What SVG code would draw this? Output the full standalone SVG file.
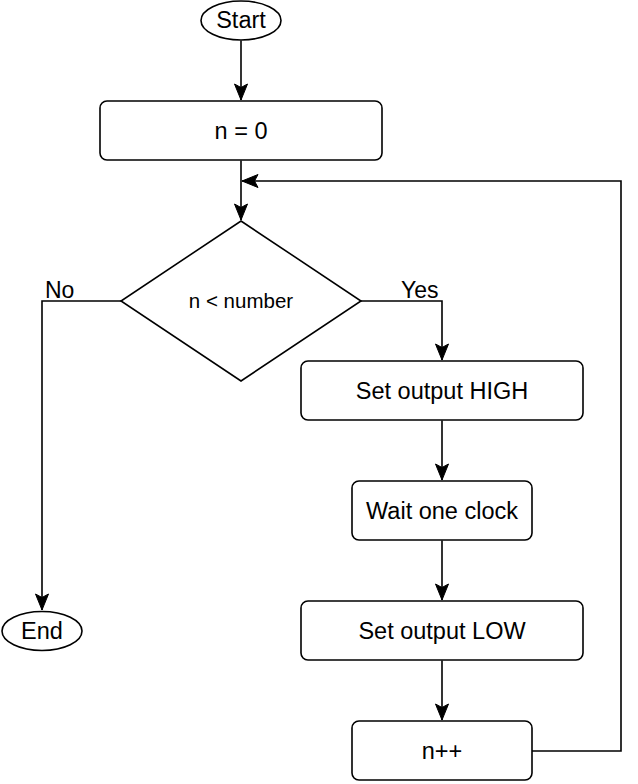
<svg xmlns="http://www.w3.org/2000/svg" width="638" height="784" viewBox="0 0 638 784">
<defs>
<style>
.s{fill:#fff;stroke:#000;stroke-width:1.6}
.c{fill:none;stroke:#000;stroke-width:1.6}
.t{font-family:"Liberation Sans",Arial,sans-serif;font-size:23.5px;fill:#000;text-anchor:middle}
.sm{font-size:20.5px}
.lb{font-family:"Liberation Sans",Arial,sans-serif;font-size:23px;fill:#000}
</style>
<marker id="ar" markerUnits="userSpaceOnUse" markerWidth="18" markerHeight="16" viewBox="0 0 18 16" refX="17" refY="8" orient="auto">
<path d="M1,1.5 L17,8 L1,14.5 L4.5,8 z" fill="#000" stroke="#000" stroke-width="1"/>
</marker>
</defs>
<rect width="638" height="784" fill="#fff"/>
<g id="connectors">
<path class="c" d="M241,40.5 V100" marker-end="url(#ar)"/>
<path class="c" d="M241,160.5 V220" marker-end="url(#ar)"/>
<path class="c" d="M361,301 H442 V360" marker-end="url(#ar)"/>
<path class="c" d="M121,301 H42 V610" marker-end="url(#ar)"/>
<path class="c" d="M442,420.5 V480" marker-end="url(#ar)"/>
<path class="c" d="M442,540.5 V600" marker-end="url(#ar)"/>
<path class="c" d="M442,660.5 V720" marker-end="url(#ar)"/>
<path class="c" d="M532,751 H621 V181 H242" marker-end="url(#ar)"/>
<text class="lb" x="45" y="298">No</text>
<text class="lb" x="401" y="298">Yes</text>
</g>
<g id="start"><ellipse class="s" cx="241" cy="20.5" rx="40" ry="19.5"/><text class="t" x="241" y="28">Start</text></g>
<g id="init"><rect class="s" x="100" y="101" width="282" height="59" rx="7"/><text class="t" x="241" y="138.5">n = 0</text></g>
<g id="decision"><path class="s" d="M241,221 L361,301 L241,381 L121,301 Z"/><text class="t sm" x="241" y="308">n &lt; number</text></g>
<g id="high"><rect class="s" x="301" y="361" width="282" height="59" rx="7"/><text class="t" x="442" y="398.5">Set output HIGH</text></g>
<g id="wait"><rect class="s" x="352" y="481" width="180" height="59" rx="7"/><text class="t" x="442" y="518.5">Wait one clock</text></g>
<g id="low"><rect class="s" x="301" y="601" width="282" height="59" rx="7"/><text class="t" x="442" y="638.5">Set output LOW</text></g>
<g id="inc"><rect class="s" x="352" y="721" width="180" height="59" rx="7"/><text class="t" x="442" y="758.5">n++</text></g>
<g id="end"><ellipse class="s" cx="42" cy="631" rx="40" ry="19.5"/><text class="t" x="42" y="639">End</text></g>
</svg>
